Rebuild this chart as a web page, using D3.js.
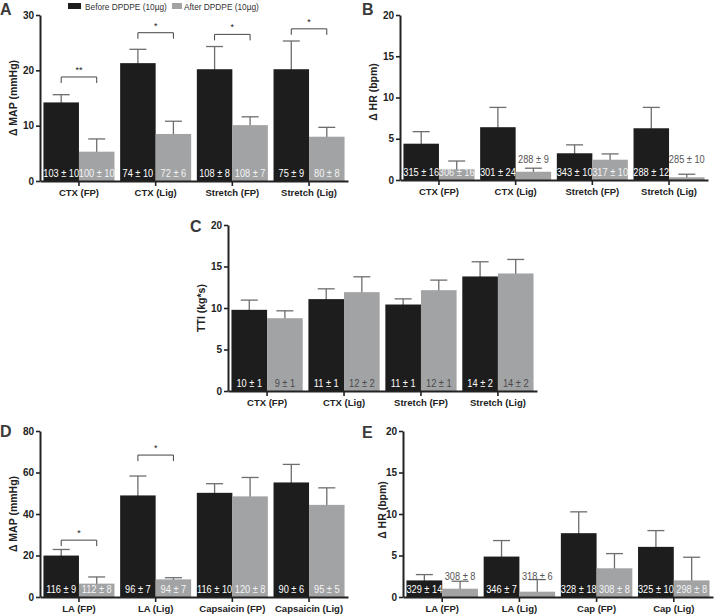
<!DOCTYPE html>
<html>
<head>
<meta charset="utf-8">
<script src="https://cdn.jsdelivr.net/npm/d3@7"></script>
<style>
  html, body { margin: 0; padding: 0; background: #fff; }
  svg { display: block; font-family: "Liberation Sans", Arial, Helvetica, sans-serif; }
</style>
</head>
<body>
<svg id="chart" width="714" height="615"></svg>
<script>
// ---------------- DATA ----------------
const seriesNames = ["Before DPDPE (10µg)", "After DPDPE (10µg)"];
const groupsTop = ["CTX (FP)", "CTX (Lig)", "Stretch (FP)", "Stretch (Lig)"];
const groupsD = ["LA (FP)", "LA (Lig)", "Capsaicin (FP)", "Capsaicin (Lig)"];
const groupsE = ["LA (FP)", "LA (Lig)", "Cap (FP)", "Cap (Lig)"];

// Panel A: Δ MAP (mmHg)
const mapA_before = [14.2, 21.3, 20.2, 20.2];
const mapA_beforeErr = [1.4, 2.5, 4.1, 5.1];
const mapA_after = [5.3, 8.5, 10.1, 8.0];
const mapA_afterErr = [2.3, 2.3, 1.5, 1.7];
const mapA_beforeLabels = ["103 ± 10", "74 ± 10", "108 ± 8", "75 ± 9"];
const mapA_afterLabels = ["100 ± 10", "72 ± 6", "108 ± 7", "80 ± 8"];
const mapA_afterLifted = [false, false, false, false];
const mapA_sig = ["**", "*", "*", "*"];
const mapA_sigLevel = [18.8, 26.8, 26.5, 27.5];
const mapA_ticks = [0, 10, 20, 30];

// Panel B: Δ HR (bpm)
const hrB_before = [4.4, 6.4, 3.24, 6.27];
const hrB_beforeErr = [1.46, 2.4, 1.02, 2.53];
const hrB_after = [1.3, 1.0, 2.46, 0.33];
const hrB_afterErr = [1.0, 0.43, 0.7, 0.37];
const hrB_beforeLabels = ["315 ± 16", "301 ± 24", "343 ± 10", "288 ± 12"];
const hrB_afterLabels = ["306 ± 16", "288 ± 9", "317 ± 10", "285 ± 10"];
const hrB_afterLifted = [false, true, false, true];
const hrB_ticks = [0, 5, 10, 15, 20];

// Panel C: TTI (kg*s)
const ttiC_before = [9.78, 11.07, 10.42, 13.8];
const ttiC_beforeErr = [1.17, 1.24, 0.68, 1.77];
const ttiC_after = [8.77, 11.91, 12.15, 14.16];
const ttiC_afterErr = [0.89, 1.85, 1.21, 1.69];
const ttiC_beforeLabels = ["10 ± 1", "11 ± 1", "11 ± 1", "14 ± 2"];
const ttiC_afterLabels = ["9 ± 1", "12 ± 2", "12 ± 1", "14 ± 2"];
const ttiC_afterLifted = [false, false, false, false];
const ttiC_ticks = [0, 5, 10, 15, 20];

// Panel D: Δ MAP (mmHg)
const mapD_before = [19.97, 48.95, 50.2, 55.2];
const mapD_beforeErr = [2.93, 9.35, 4.4, 8.7];
const mapD_after = [6.44, 8.5, 48.5, 44.4];
const mapD_afterErr = [3.22, 0.8, 9.1, 8.2];
const mapD_beforeLabels = ["116 ± 9", "96 ± 7", "116 ± 10", "90 ± 6"];
const mapD_afterLabels = ["112 ± 8", "94 ± 7", "120 ± 8", "95 ± 5"];
const mapD_afterLifted = [false, false, false, false];
const mapD_sig = ["*", "*", null, null];
const mapD_sigLevel = [27.4, 68.4, null, null];
const mapD_ticks = [0, 20, 40, 60, 80];

// Panel E: Δ HR (bpm)
const hrE_before = [2.0, 4.87, 7.69, 6.04];
const hrE_beforeErr = [0.7, 1.93, 2.57, 1.96];
const hrE_after = [1.0, 0.64, 3.46, 2.0];
const hrE_afterErr = [0.9, 1.46, 1.77, 2.79];
const hrE_beforeLabels = ["329 ± 14", "346 ± 7", "328 ± 18", "325 ± 10"];
const hrE_afterLabels = ["308 ± 8", "318 ± 6", "308 ± 8", "298 ± 8"];
const hrE_afterLifted = [true, true, false, false];
const hrE_ticks = [0, 5, 10, 15, 20];

// ---------------- STYLE ----------------
const BLACK = "#1d1d1d";
const GRAY = "#a2a3a5";
const ERR = "#6e6e6e";
const AXIS = "#222";
const TEXT = "#222";

const svg = d3.select("#chart");

function panel(cfg) {
  const g = svg.append("g");
  const y = d3.scaleLinear().domain([0, cfg.max]).range([cfg.yBottom, cfg.yTop]);
  const x = d3.scaleBand().domain(cfg.groups).range([cfg.x0, cfg.x1])
    .paddingInner(0.074).paddingOuter(0.045);
  const sub = d3.scaleBand().domain([0, 1]).range([0, x.bandwidth()]);

  const series = [
    {vals: cfg.before, err: cfg.beforeErr, labels: cfg.beforeLabels, color: BLACK, lifted: cfg.groups.map(() => false), txt: "#fff"},
    {vals: cfg.after, err: cfg.afterErr, labels: cfg.afterLabels, color: GRAY, lifted: cfg.afterLifted, txt: cfg.grayTxt}
  ];

  series.forEach((s, si) => {
    const items = cfg.groups.map((grp, i) => ({grp, v: s.vals[i], e: s.err[i], lab: s.labels[i], lifted: s.lifted[i]}));
    const cx = d => x(d.grp) + sub(si) + sub.bandwidth() / 2;
    g.selectAll(null).data(items).enter().append("line")
      .attr("x1", cx).attr("x2", cx)
      .attr("y1", d => y(d.v) + 2).attr("y2", d => y(d.v + d.e))
      .attr("stroke", ERR).attr("stroke-width", 1.3);
    g.selectAll(null).data(items).enter().append("line")
      .attr("x1", d => cx(d) - 8.5).attr("x2", d => cx(d) + 8.5)
      .attr("y1", d => y(d.v + d.e)).attr("y2", d => y(d.v + d.e))
      .attr("stroke", ERR).attr("stroke-width", 1.3);
    g.selectAll(null).data(items).enter().append("rect")
      .attr("x", d => x(d.grp) + sub(si))
      .attr("width", sub.bandwidth())
      .attr("y", d => y(d.v))
      .attr("height", d => y(0) - y(d.v))
      .attr("fill", s.color);
    g.selectAll(null).data(items).enter().append("text")
      .attr("transform", d => `translate(${cx(d)},${d.lifted ? cfg.yBottom - 17 : cfg.yBottom - 4}) scale(0.88,1)`)
      .attr("text-anchor", "middle")
      .attr("font-size", 10.5)
      .attr("fill", d => d.lifted ? "#555" : s.txt)
      .text(d => d.lab);
  });

  if (cfg.sig) {
    cfg.groups.forEach((grp, i) => {
      if (!cfg.sig[i]) return;
      const xa = x(grp) + sub(0) + sub.bandwidth() / 2;
      const xb = x(grp) + sub(1) + sub.bandwidth() / 2;
      const yy = y(cfg.sigLevel[i]);
      g.append("path")
        .attr("d", `M${xa},${yy + 6}V${yy}H${xb}V${yy + 6}`)
        .attr("fill", "none").attr("stroke", "#444").attr("stroke-width", 1);
      g.append("text")
        .attr("x", (xa + xb) / 2).attr("y", yy - 4)
        .attr("text-anchor", "middle").attr("font-size", 9).attr("fill", TEXT)
        .text(cfg.sig[i]);
    });
  }

  const ya = g.append("g").attr("transform", `translate(${cfg.x0},0)`)
    .call(d3.axisLeft(y).tickValues(cfg.ticks).tickSizeOuter(0).tickSizeInner(4).tickPadding(2).tickFormat(d3.format("d")));
  const xa = g.append("g").attr("transform", `translate(0,${cfg.yBottom})`)
    .call(d3.axisBottom(x).tickSizeOuter(0).tickSizeInner(5).tickPadding(3));
  [ya, xa].forEach(a => {
    a.select(".domain").attr("stroke", AXIS).attr("stroke-width", 2);
    a.selectAll(".tick line").attr("stroke", AXIS).attr("stroke-width", 1.6);
    a.selectAll("text").attr("fill", TEXT).attr("font-weight", "bold")
      .attr("font-family", "'Liberation Sans', Arial, sans-serif");
  });
  ya.selectAll("text").attr("font-size", 10);
  xa.selectAll("text").attr("font-size", 9.5);

  g.append("text")
    .attr("transform", `translate(${cfg.titleX},${cfg.titleY}) rotate(-90)`)
    .attr("text-anchor", "middle").attr("dy", "0.35em")
    .attr("font-size", 10.5).attr("font-weight", "bold").attr("fill", TEXT)
    .text(cfg.title);

  g.append("text")
    .attr("x", cfg.letterX).attr("y", cfg.letterY)
    .attr("font-size", 16).attr("font-weight", "bold").attr("fill", "#3a3a3a")
    .text(cfg.letter);
}

panel({letter: "A", letterX: 0, letterY: 15, title: "Δ MAP (mmHg)", titleX: 13, titleY: 98,
  groups: groupsTop, max: 30, ticks: mapA_ticks, x0: 40, x1: 348, yTop: 15, yBottom: 181,
  before: mapA_before, beforeErr: mapA_beforeErr, after: mapA_after, afterErr: mapA_afterErr,
  beforeLabels: mapA_beforeLabels, afterLabels: mapA_afterLabels, afterLifted: mapA_afterLifted,
  grayTxt: "#f4f4f4", sig: mapA_sig, sigLevel: mapA_sigLevel});

panel({letter: "B", letterX: 362, letterY: 15, title: "Δ HR (bpm)", titleX: 373, titleY: 92,
  groups: groupsTop, max: 20, ticks: hrB_ticks, x0: 400, x1: 708, yTop: 15, yBottom: 180,
  before: hrB_before, beforeErr: hrB_beforeErr, after: hrB_after, afterErr: hrB_afterErr,
  beforeLabels: hrB_beforeLabels, afterLabels: hrB_afterLabels, afterLifted: hrB_afterLifted,
  grayTxt: "#f4f4f4"});

panel({letter: "C", letterX: 190, letterY: 232, title: "TTI (kg*s)", titleX: 201, titleY: 308,
  groups: groupsTop, max: 20, ticks: ttiC_ticks, x0: 228, x1: 537, yTop: 225, yBottom: 391,
  before: ttiC_before, beforeErr: ttiC_beforeErr, after: ttiC_after, afterErr: ttiC_afterErr,
  beforeLabels: ttiC_beforeLabels, afterLabels: ttiC_afterLabels, afterLifted: ttiC_afterLifted,
  grayTxt: "#4a4a4a"});

panel({letter: "D", letterX: 0, letterY: 437, title: "Δ MAP (mmHg)", titleX: 13, titleY: 514,
  groups: groupsD, max: 80, ticks: mapD_ticks, x0: 40, x1: 348, yTop: 431, yBottom: 597,
  before: mapD_before, beforeErr: mapD_beforeErr, after: mapD_after, afterErr: mapD_afterErr,
  beforeLabels: mapD_beforeLabels, afterLabels: mapD_afterLabels, afterLifted: mapD_afterLifted,
  grayTxt: "#f4f4f4", sig: mapD_sig, sigLevel: mapD_sigLevel});

panel({letter: "E", letterX: 362, letterY: 438, title: "Δ HR (bpm)", titleX: 382, titleY: 510,
  groups: groupsE, max: 20, ticks: hrE_ticks, x0: 403, x1: 713, yTop: 431, yBottom: 597,
  before: hrE_before, beforeErr: hrE_beforeErr, after: hrE_after, afterErr: hrE_afterErr,
  beforeLabels: hrE_beforeLabels, afterLabels: hrE_afterLabels, afterLifted: hrE_afterLifted,
  grayTxt: "#f4f4f4"});

const legend = svg.append("g");
const legendItems = [
  {name: seriesNames[0], color: BLACK, rx: 68, rw: 13, tx: 85},
  {name: seriesNames[1], color: GRAY, rx: 172, rw: 10, tx: 184}
];
legend.selectAll(null).data(legendItems).enter().append("rect")
  .attr("x", d => d.rx).attr("y", 3).attr("width", d => d.rw).attr("height", 6)
  .attr("fill", d => d.color);
legend.selectAll(null).data(legendItems).enter().append("text")
  .attr("x", d => d.tx).attr("y", 9.5).attr("font-size", 8.3).attr("fill", "#333")
  .text(d => d.name);
</script>
</body>
</html>
